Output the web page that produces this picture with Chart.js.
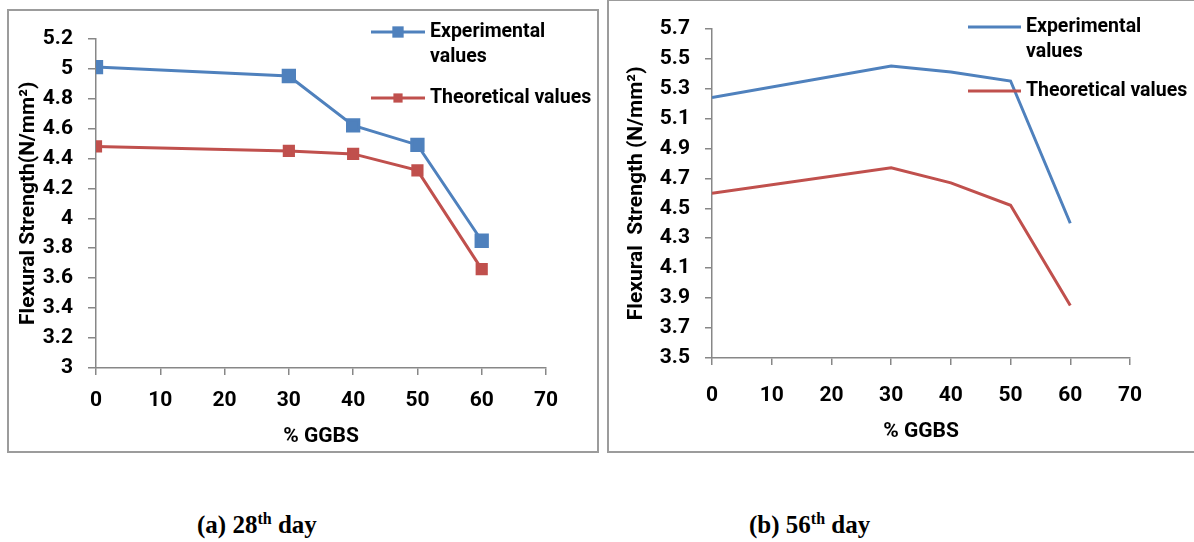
<!DOCTYPE html>
<html>
<head>
<meta charset="utf-8">
<script src="https://cdn.jsdelivr.net/npm/chart.js@4.4.1/dist/chart.umd.min.js"></script>
<style>
    body { margin: 0; background: #fff; width: 1194px; height: 542px; overflow: hidden; position: relative; }
    .box { position: absolute; border: 2px solid #9c9c9c; box-sizing: border-box; }
    #box1 { left: 7px; top: 9px; width: 592px; height: 444px; }
    #box2 { left: 607px; top: -1px; width: 600px; height: 454px; }
    canvas { position: absolute; }
    #c1 { left: 9px; top: 11px; }
    #c2 { left: 609px; top: 1px; }
    .cap { position: absolute; top: 511px; font: bold 25px/28px "Liberation Serif", serif; color: #000; white-space: nowrap; }
    .cap sup { font-size: 16px; line-height: 0; }
</style>
</head>
<body>
<div class="box" id="box1"></div>
<div class="box" id="box2"></div>
<canvas id="c1" width="588" height="440"></canvas>
<canvas id="c2" width="585" height="450"></canvas>
<div class="cap" style="left:197px">(a) 28<sup>th</sup> day</div>
<div class="cap" style="left:749px">(b) 56<sup>th</sup> day</div>
<script>
// % GGBS
const ggbs = [0, 30, 40, 50, 60];
const xTicks = [0, 10, 20, 30, 40, 50, 60, 70];

// 28th day
const exp28 = [5.01, 4.95, 4.62, 4.49, 3.85];
const theo28 = [4.48, 4.45, 4.43, 4.32, 3.66];
const yTicks28 = [3, 3.2, 3.4, 3.6, 3.8, 4, 4.2, 4.4, 4.6, 4.8, 5, 5.2];

// 56th day
const exp56 = [5.24, 5.45, 5.41, 5.35, 4.40];
const theo56 = [4.60, 4.77, 4.67, 4.52, 3.85];
const yTicks56 = [3.5, 3.7, 3.9, 4.1, 4.3, 4.5, 4.7, 4.9, 5.1, 5.3, 5.5, 5.7];

const legendLines = [["Experimental", "values"], ["Theoretical values"]];

const BLUE = "#4f81bd";
const RED = "#c0504d";
const AXIS = "#878787";
const FONT = "Roboto";

// legend drawn inside the plot like in Excel
const legendBox = {
    id: "legendBox",
    afterDraw(chart, args, opts) {
        const ctx = chart.ctx;
        ctx.save();
        chart.data.datasets.forEach((ds, i) => {
            const y = opts.rows[i];
            ctx.strokeStyle = ds.borderColor;
            ctx.lineWidth = 3;
            ctx.beginPath();
            ctx.moveTo(opts.x, y);
            ctx.lineTo(opts.x + opts.len, y);
            ctx.stroke();
            if (ds.pointRadius) {
                const s = ds.pointRadius * Math.SQRT1_2;
                ctx.fillStyle = ds.pointBackgroundColor;
                ctx.fillRect(opts.x + opts.len / 2 - s, y - s, 2 * s, 2 * s);
            }
            ctx.fillStyle = "#000";
            ctx.font = "bold 19.5px " + FONT;
            ctx.textBaseline = "middle";
            legendLines[i].forEach((t, k) => {
                ctx.fillText(t, opts.x + opts.len + 5, y + k * opts.lineGap);
            });
        });
        ctx.restore();
    },
};

function makeChart(id, exp, theo, yTicks, o) {
    const tickFont = { family: FONT, size: 21, weight: "bold" };
    const fmt = (v) => String(parseFloat(v.toFixed(1)));
    new Chart(document.getElementById(id), {
        type: "line",
        data: {
            labels: ggbs,
            datasets: [
                {
                    label: legendLines[0].join(" "),
                    data: ggbs.map((x, i) => ({ x: x, y: exp[i] })),
                    borderColor: BLUE,
                    backgroundColor: BLUE,
                    pointBackgroundColor: BLUE,
                    pointBorderColor: BLUE,
                    borderWidth: 3,
                    pointStyle: "rect",
                    pointRadius: o.markers ? 8 : 0,
                    tension: 0,
                },
                {
                    label: legendLines[1].join(" "),
                    data: ggbs.map((x, i) => ({ x: x, y: theo[i] })),
                    borderColor: RED,
                    backgroundColor: RED,
                    pointBackgroundColor: RED,
                    pointBorderColor: RED,
                    borderWidth: 3,
                    pointStyle: "rect",
                    pointRadius: o.markers ? 6.5 : 0,
                    tension: 0,
                },
            ],
        },
        options: {
            responsive: false,
            animation: false,
            layout: { padding: { top: o.top, right: o.right, left: 0, bottom: 0 } },
            plugins: {
                legend: { display: false },
                tooltip: { enabled: false },
                legendBox: o.legend,
            },
            scales: {
                x: {
                    type: "linear",
                    min: 0,
                    max: 70,
                    afterBuildTicks: (s) => { s.ticks = xTicks.map((v) => ({ value: v })); },
                    afterFit: (s) => { s.height = o.xHeight; },
                    grid: { drawOnChartArea: false, tickLength: 7, color: AXIS, lineWidth: 1.5 },
                    border: { color: AXIS, width: 1.5 },
                    ticks: { font: tickFont, color: "#000", padding: o.xPad },
                    title: { display: true, text: "% GGBS", font: tickFont, color: "#000", padding: { top: 0, bottom: o.xTitlePad } },
                },
                y: {
                    min: yTicks[0],
                    max: yTicks[yTicks.length - 1],
                    afterBuildTicks: (s) => { s.ticks = yTicks.map((v) => ({ value: v })); },
                    afterFit: (s) => { s.width = o.yWidth; },
                    grid: { drawOnChartArea: false, tickLength: o.yTick, color: AXIS, lineWidth: 1.5 },
                    border: { color: AXIS, width: 1.5 },
                    ticks: { font: tickFont, color: "#000", padding: o.yPad, callback: fmt },
                    title: { display: true, text: o.yTitle, font: tickFont, color: "#000", padding: { top: o.yTitlePad, bottom: 0 } },
                },
            },
        },
        plugins: [legendBox],
    });
}

makeChart("c1", exp28, theo28, yTicks28, {
    markers: true,
    top: 22, right: 51, xHeight: 83, yWidth: 87, yTick: 8, yPad: 15, yTitlePad: 7, xPad: 13, xTitlePad: 2,
    yTitle: "Flexural Strength(N/mm²)",
    legend: { x: 362, len: 54, rows: [21, 87], lineGap: 25 },
});

makeChart("c2", exp56, theo56, yTicks56, {
    markers: false,
    top: 15, right: 64, xHeight: 93, yWidth: 103, yTick: 7, yPad: 15, yTitlePad: 15, xPad: 18, xTitlePad: 7,
    yTitle: "Flexural  Strength (N/mm²)",
    legend: { x: 359, len: 53, rows: [26, 90], lineGap: 25 },
});
</script>
</body>
</html>
